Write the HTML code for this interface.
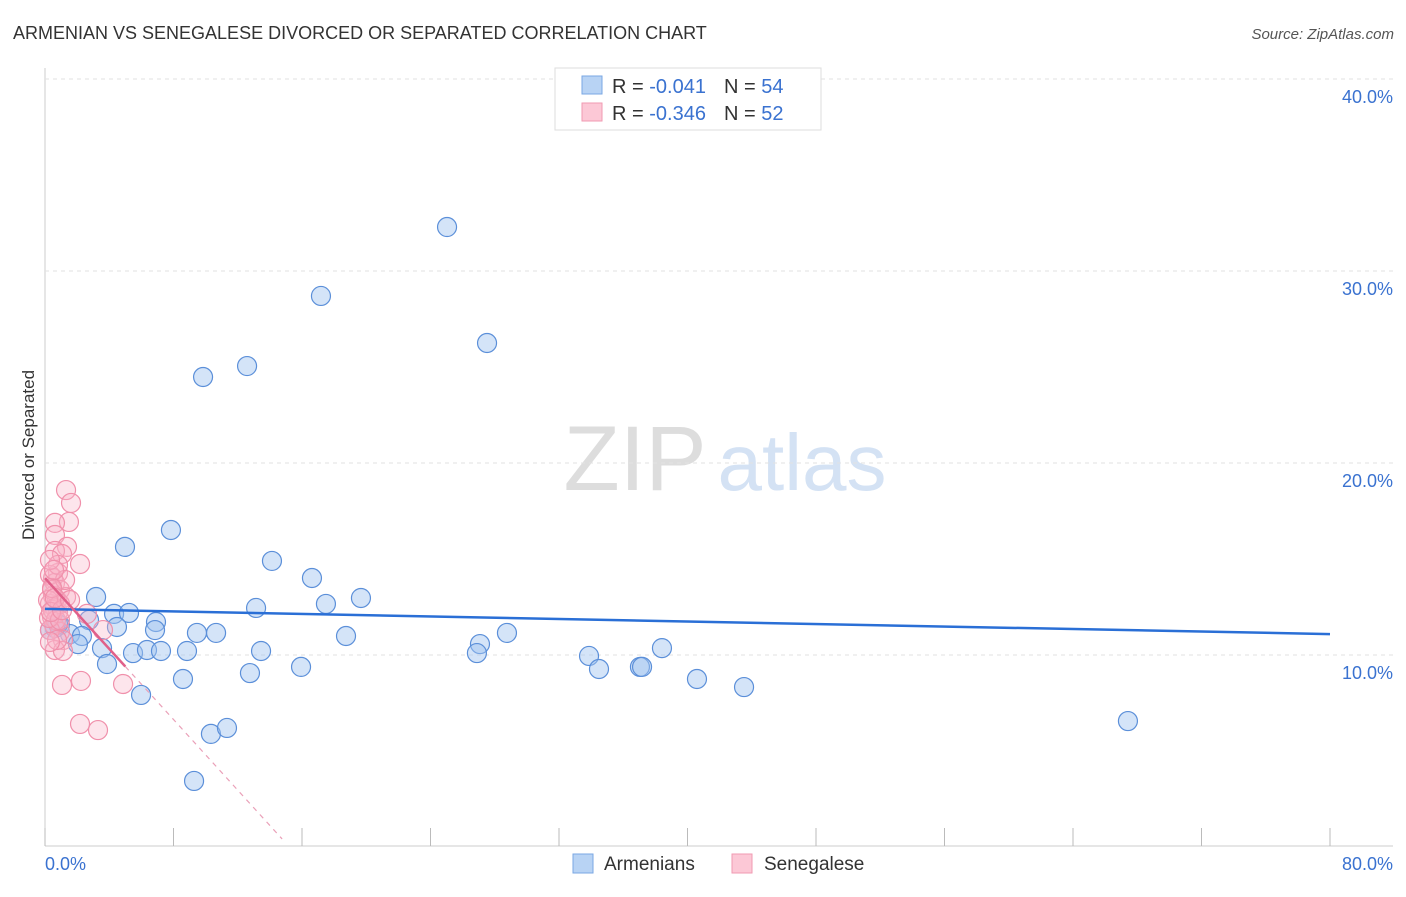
<!DOCTYPE html>
<html><head><meta charset="utf-8"><style>
body{margin:0;background:#fff;font-family:"Liberation Sans",sans-serif;}
svg text{font-family:"Liberation Sans",sans-serif;}
</style></head><body>
<svg id="c" width="1406" height="892">
<text x="13" y="39" font-size="18" fill="#333">ARMENIAN VS SENEGALESE DIVORCED OR SEPARATED CORRELATION CHART</text>
<text x="1394" y="39" font-size="15" fill="#555" font-style="italic" text-anchor="end">Source: ZipAtlas.com</text>
<text x="34" y="455" font-size="17" fill="#333" transform="rotate(-90 34 455)" text-anchor="middle">Divorced or Separated</text>
<text x="635" y="490" font-size="92" fill="#ddd" font-family="Liberation Serif" text-anchor="middle">ZIP</text>
<text x="802" y="490" font-size="80" fill="#d4e2f4" text-anchor="middle">atlas</text>
<g id="grid"></g><g id="pts"></g><g id="trend"></g>
<g>
<rect x="555" y="68" width="266" height="62" fill="#fff" stroke="#ddd"/>
<rect x="582" y="76" width="20" height="18" fill="#b8d3f4" stroke="#7aa7e3"/>
<rect x="582" y="103" width="20" height="18" fill="#fcc8d6" stroke="#f09ab2"/>
<text x="612" y="93" font-size="20" fill="#333">R = <tspan fill="#3a72d0">-0.041</tspan><tspan dx="18">N = </tspan><tspan fill="#3a72d0">54</tspan></text>
<text x="612" y="120" font-size="20" fill="#333">R = <tspan fill="#3a72d0">-0.346</tspan><tspan dx="18">N = </tspan><tspan fill="#3a72d0">52</tspan></text>
</g>
<text x="45" y="870" font-size="18" fill="#3a72d0">0.0%</text>
<text x="1393" y="870" font-size="18" fill="#3a72d0" text-anchor="end">80.0%</text>
<g>
<rect x="573" y="854" width="20" height="19" fill="#b8d3f4" stroke="#7aa7e3"/>
<text x="604" y="870" font-size="19" fill="#333">Armenians</text>
<rect x="732" y="854" width="20" height="19" fill="#fcc8d6" stroke="#f09ab2"/>
<text x="764" y="870" font-size="19" fill="#333">Senegalese</text>
</g>
</svg>
<script>
const yTicks=[10,20,30,40];
const xTicks=[0,8,16,24,32,40,48,56,64,72,80];
const bluePx=[[447,227],[321,296],[487,343],[247,366],[203,377],[171,530],[125,547],[272,561],[312,578],[96,597],[361,598],[326,604],[256,608],[114,614],[129,613],[156,622],[155,630],[117,627],[89,620],[60,625],[70,634],[82,636],[78,644],[102,648],[197,633],[216,633],[346,636],[507,633],[480,644],[477,653],[133,653],[147,650],[161,651],[187,651],[261,651],[107,664],[301,667],[250,673],[183,679],[141,695],[589,656],[599,669],[640,667],[642,667],[662,648],[697,679],[744,687],[1128,721],[211,734],[227,728],[194,781],[55,628],[58,624],[50,630]];
const pinkPx=[[66,490],[71,503],[69,522],[55,523],[55,535],[67,547],[55,551],[62,554],[80,564],[58,573],[53,578],[55,583],[60,590],[53,596],[57,600],[66,597],[50,604],[55,608],[58,612],[52,617],[87,614],[54,625],[60,632],[63,640],[55,650],[63,651],[103,630],[62,685],[81,681],[123,684],[80,724],[98,730],[50,575],[52,590],[58,565],[50,560],[53,610],[56,620],[50,630],[60,604],[48,600],[65,580],[52,588],[54,570],[49,618],[57,640],[60,620],[51,612],[62,610],[50,642],[55,598],[70,600]];
const blueX=bluePx.map(p=>+((p[0]-45)/16.0625).toFixed(2));
const blueY=bluePx.map(p=>+((847-p[1])/19.2).toFixed(2));
const pinkX=pinkPx.map(p=>+((p[0]-45)/16.0625).toFixed(2));
const pinkY=pinkPx.map(p=>+((847-p[1])/19.2).toFixed(2));
const blueTrend=[12.4,11.09];
const pinkTrend=[14.0,-0.92];
const X=v=>45+v*16.0625, Y=v=>847-v*19.2;
const NS="http://www.w3.org/2000/svg";
function mk(t,a,parent){const e=document.createElementNS(NS,t);for(const k in a)e.setAttribute(k,a[k]);parent.appendChild(e);return e;}
const grid=document.getElementById('grid');
mk('line',{x1:45,y1:68,x2:45,y2:846,stroke:'#ccc'},grid);
mk('line',{x1:45,y1:846,x2:1393,y2:846,stroke:'#ccc'},grid);
yTicks.forEach(t=>{
 const l=mk('line',{x1:45,y1:Y(t),x2:1393,y2:Y(t),stroke:'#e2e2e2','stroke-dasharray':'4,4'},grid);
 
 
 const tx=mk('text',{x:1393,y:Y(t)+24,'font-size':18,fill:'#3a72d0','text-anchor':'end'},grid);
 tx.textContent=t.toFixed(1)+'%';
 
 
});
xTicks.forEach(t=>{
 const l=mk('line',{x1:X(t),y1:828,x2:X(t),y2:846,stroke:'#bbb'},grid);
 
 
});
const pts=document.getElementById('pts');
blueX.forEach((v,i)=>{
 const c=mk('circle',{cx:X(v),cy:Y(blueY[i]),r:9.5,fill:'rgba(160,196,240,0.45)',stroke:'#5b8fd9','stroke-width':1.2},pts);
 
 
});
pinkX.forEach((v,i)=>{
 const c=mk('circle',{cx:X(v),cy:Y(pinkY[i]),r:9.5,fill:'rgba(248,180,200,0.35)',stroke:'#f090ab','stroke-width':1.2},pts);
 
 
});
const tr=document.getElementById('trend');
const bl=mk('line',{x1:X(0),y1:Y(blueTrend[0]),x2:X(80),y2:Y(blueTrend[1]),stroke:'#2a6fd6','stroke-width':2.5},tr);


const pf=v=>pinkTrend[0]+pinkTrend[1]*v;
const ps=mk('line',{x1:X(0),y1:Y(pf(0)),x2:X(5),y2:Y(pf(5)),stroke:'#e0608a','stroke-width':2.5},tr);


const xe=pinkTrend[0]/-pinkTrend[1]*0.97;
const pd=mk('line',{x1:X(5),y1:Y(pf(5)),x2:X(xe),y2:Y(pf(xe)),stroke:'#eaa0b8','stroke-width':1.2,'stroke-dasharray':'5,5'},tr);


</script>
</body></html>
